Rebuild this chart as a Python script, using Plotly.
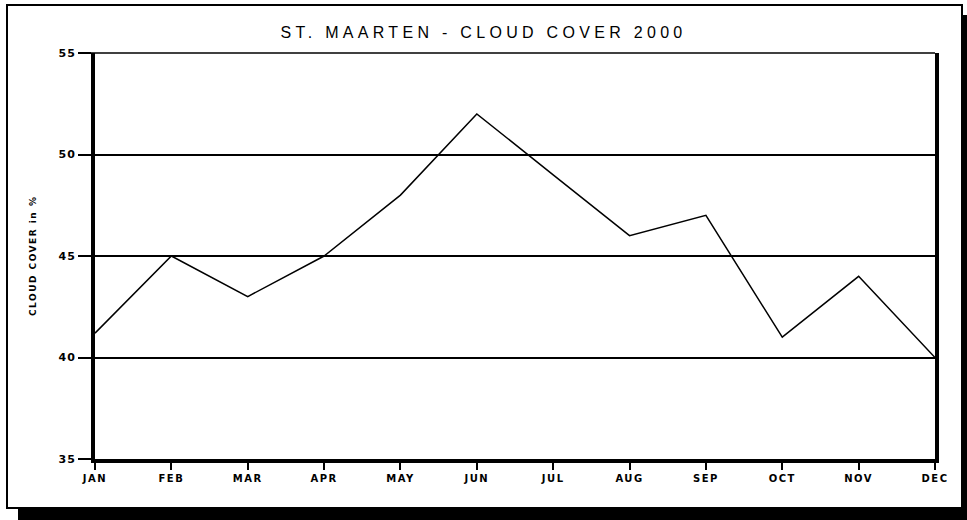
import plotly.graph_objects as go

months = ["JAN", "FEB", "MAR", "APR", "MAY", "JUN", "JUL", "AUG", "SEP", "OCT", "NOV", "DEC"]
cloud_cover = [41.2, 45, 43, 45, 48, 52, 49, 46, 47, 41, 44, 40]
y_ticks = [35, 40, 45, 50, 55]
title_text = "ST. MAARTEN - CLOUD COVER 2000"
y_title = "CLOUD COVER in %"

W, H = 967, 520
L, R, T, B = 95, 32, 53, 61
pw, ph = W - L - R, H - T - B

def px_x(p):
    return (p - L) / pw

def px_y(p):
    return (H - B - p) / ph

fig = go.Figure()
fig.add_trace(go.Scatter(
    x=list(range(len(months))), y=cloud_cover, mode="lines",
    line=dict(color="black", width=1.5), hoverinfo="skip", showlegend=False,
))

fig.update_layout(
    width=W, height=H,
    margin=dict(l=L, r=R, t=T, b=B),
    paper_bgcolor="white", plot_bgcolor="rgba(0,0,0,0)",
    title=dict(text=title_text, x=0.5, xanchor="center", xref="container",
               y=1 - 32 / H, yanchor="middle", yref="container",
               font=dict(family="Liberation Sans", size=16, color="black")),
    xaxis=dict(range=[0, len(months) - 1], tickmode="array",
               tickvals=list(range(len(months))), ticktext=months,
               showline=True, linecolor="black", linewidth=4,
               ticks="outside", ticklen=7, tickwidth=1.5, tickcolor="black",
               showgrid=False, zeroline=False,
               tickfont=dict(family="DejaVu Sans", size=10, color="black", weight="bold")),
    yaxis=dict(range=[35, 55], tickmode="array", tickvals=y_ticks,
               showline=True, linecolor="black", linewidth=4, mirror=True,
               ticks="outside", ticklen=13, tickwidth=1.5, tickcolor="black",
               showgrid=True, gridcolor="black", gridwidth=1.5, zeroline=False,
               tickfont=dict(family="DejaVu Sans", size=11, color="black", weight="bold")),
    shapes=[
        dict(type="rect", xref="paper", yref="paper", layer="below",
             x0=px_x(18), x1=px_x(975), y0=px_y(525), y1=px_y(15),
             fillcolor="black", line=dict(width=0)),
        dict(type="rect", xref="paper", yref="paper", layer="below",
             x0=px_x(7), x1=px_x(962), y0=px_y(508), y1=px_y(5),
             fillcolor="white", line=dict(color="black", width=2)),
        dict(type="line", xref="paper", yref="paper", layer="above",
             x0=px_x(82), x1=1, y0=1, y1=1,
             line=dict(color="black", width=1.5)),
    ],
    annotations=[
        dict(text=y_title, xref="paper", yref="paper", x=px_x(33), y=0.5,
             xanchor="center", yanchor="middle", textangle=-90, showarrow=False,
             font=dict(family="DejaVu Sans", size=9, color="black", weight="bold")),
    ],
)

post = """
var s = document.createElement('style');
s.innerHTML = 'html,body{margin:0;padding:0;} .gtitle{letter-spacing:4.3px;} .xtick text{letter-spacing:1.5px;} .ytick text{letter-spacing:1px;} .annotation-text{letter-spacing:1.5px;}';
document.head.appendChild(s);
"""
fig.write_html("out.html", post_script=post, config={"displayModeBar": False})
